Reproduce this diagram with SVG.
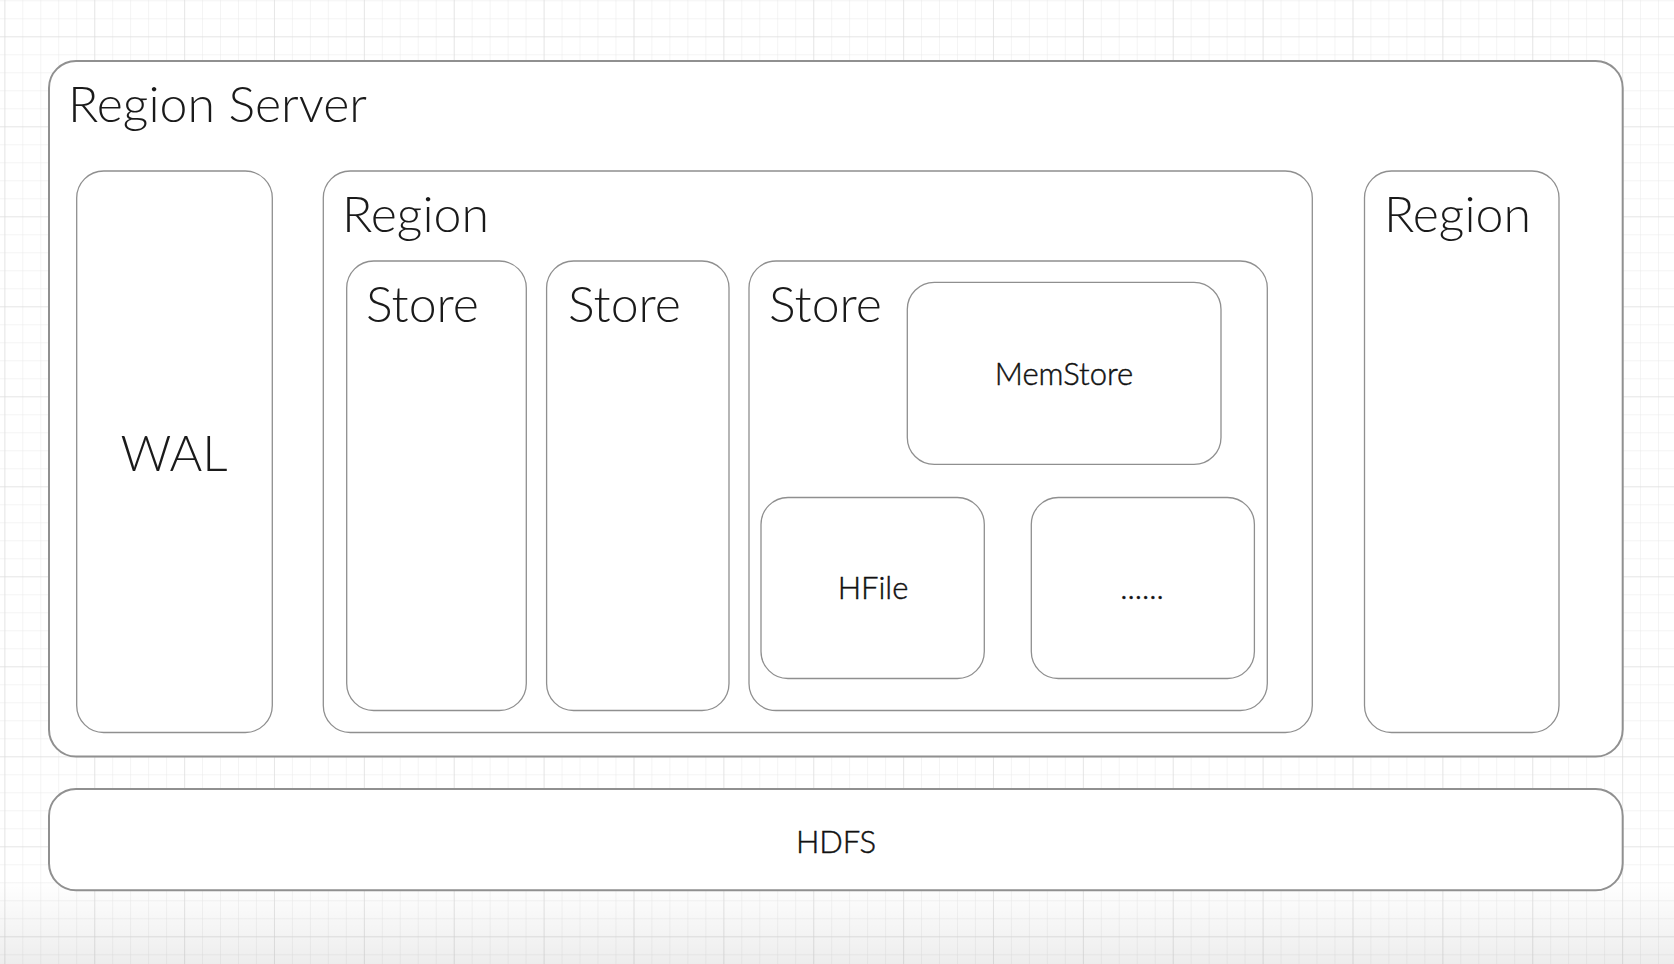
<svg xmlns="http://www.w3.org/2000/svg" width="1674" height="964" viewBox="0 0 1674 964">
  <defs>
    <pattern id="minor" x="4.3" y="0.3" width="17.975" height="18" patternUnits="userSpaceOnUse">
      <path d="M0 0V18M0 0H17.975" fill="none" stroke="#e9e9e9" stroke-width="1"/>
    </pattern>
    <pattern id="major" x="4.4" y="36.3" width="89.875" height="90" patternUnits="userSpaceOnUse">
      <path d="M0 0V90M0 0H89.875" fill="none" stroke="#dadada" stroke-width="1"/>
    </pattern>
    <linearGradient id="fade" x1="0" y1="0" x2="0" y2="1">
      <stop offset="0" stop-color="#000" stop-opacity="0"/>
      <stop offset="1" stop-color="#000" stop-opacity="0.07"/>
    </linearGradient>
  </defs>
  <style>
    .box { fill: #ffffff; stroke: #8f8f8f; stroke-width: 1.3; }
    .outer { fill: #ffffff; stroke: #909090; stroke-width: 2; }
    .big { font-family: Lato, "Open Sans", "Liberation Sans", sans-serif; font-weight: 300; font-size: 50px; fill: #1a1a1a; }
    .small { font-family: Lato, "Open Sans", "Liberation Sans", sans-serif; font-weight: 300; font-size: 31px; fill: #111111; stroke: #111111; stroke-width: 0.45; text-anchor: middle; }
  </style>
  <rect width="1674" height="964" fill="#ffffff"/>
  <rect width="1674" height="964" fill="url(#minor)"/>
  <rect width="1674" height="964" fill="url(#major)"/>
  <rect x="0" y="880" width="1674" height="84" fill="url(#fade)"/>

  <g id="region-server">
    <rect class="outer" x="49" y="61" width="1573.7" height="695.5" rx="27" ry="27"/>
    <text class="big" x="68" y="121.7">Region Server</text>
  </g>
  <g id="hdfs">
    <rect class="outer" x="49" y="789" width="1573.7" height="101.3" rx="27" ry="27"/>
    <text class="small" x="836" y="853">HDFS</text>
  </g>
  <g id="wal">
    <rect class="box" x="76.7" y="171" width="195.6" height="561.5" rx="27" ry="27"/>
    <text class="big" x="174" y="471" text-anchor="middle">WAL</text>
  </g>
  <g id="region">
    <rect class="box" x="323.3" y="171" width="989" height="561.5" rx="27" ry="27"/>
    <text class="big" x="342" y="231.7">Region</text>
  </g>
  <g id="store1">
    <rect class="box" x="346.7" y="261" width="179.6" height="449.5" rx="27" ry="27"/>
    <text class="big" x="366" y="321.7">Store</text>
  </g>
  <g id="store2">
    <rect class="box" x="546.6" y="261" width="182.4" height="449.5" rx="27" ry="27"/>
    <text class="big" x="568" y="321.7">Store</text>
  </g>
  <g id="store3">
    <rect class="box" x="749" y="261" width="518.3" height="449.5" rx="27" ry="27"/>
    <text class="big" x="769" y="321.7">Store</text>
  </g>
  <g id="memstore">
    <rect class="box" x="907.3" y="282.3" width="313.7" height="182.1" rx="27" ry="27"/>
    <text class="small" x="1064" y="385">MemStore</text>
  </g>
  <g id="hfile">
    <rect class="box" x="761" y="497.5" width="223.3" height="181" rx="27" ry="27"/>
    <text class="small" x="873" y="599">HFile</text>
  </g>
  <g id="more">
    <rect class="box" x="1031.3" y="497.5" width="223.1" height="181" rx="27" ry="27"/>
    <text class="small" x="1142" y="599">......</text>
  </g>
  <g id="region2">
    <rect class="box" x="1364.5" y="171" width="194.5" height="561.5" rx="27" ry="27"/>
    <text class="big" x="1384" y="231.7">Region</text>
  </g>
  <g id="connectors"></g>
</svg>
